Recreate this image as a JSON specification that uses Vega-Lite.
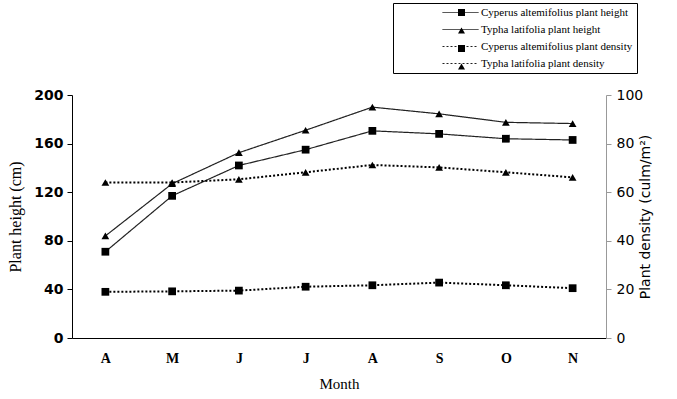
{
  "$schema": "https://vega.github.io/schema/vega-lite/v6.json",
  "width": 534,
  "height": 243,
  "autosize": {"type": "none"},
  "padding": {"left": 72, "top": 95, "right": 71, "bottom": 61},
  "background": "white",
  "config": {"view": {"stroke": null}},
  "data": {
    "values": [
      {"month": "Apr", "series": "Cyperus altemifolius plant height", "measure": "height", "value": 71},
      {"month": "May", "series": "Cyperus altemifolius plant height", "measure": "height", "value": 117},
      {"month": "Jun", "series": "Cyperus altemifolius plant height", "measure": "height", "value": 142},
      {"month": "Jul", "series": "Cyperus altemifolius plant height", "measure": "height", "value": 155},
      {"month": "Aug", "series": "Cyperus altemifolius plant height", "measure": "height", "value": 170.5},
      {"month": "Sep", "series": "Cyperus altemifolius plant height", "measure": "height", "value": 168},
      {"month": "Oct", "series": "Cyperus altemifolius plant height", "measure": "height", "value": 164},
      {"month": "Nov", "series": "Cyperus altemifolius plant height", "measure": "height", "value": 163},
      {"month": "Apr", "series": "Typha latifolia plant height", "measure": "height", "value": 84},
      {"month": "May", "series": "Typha latifolia plant height", "measure": "height", "value": 127},
      {"month": "Jun", "series": "Typha latifolia plant height", "measure": "height", "value": 152.5},
      {"month": "Jul", "series": "Typha latifolia plant height", "measure": "height", "value": 171},
      {"month": "Aug", "series": "Typha latifolia plant height", "measure": "height", "value": 190},
      {"month": "Sep", "series": "Typha latifolia plant height", "measure": "height", "value": 184.5},
      {"month": "Oct", "series": "Typha latifolia plant height", "measure": "height", "value": 177.5},
      {"month": "Nov", "series": "Typha latifolia plant height", "measure": "height", "value": 176.5},
      {"month": "Apr", "series": "Cyperus altemifolius plant density", "measure": "density", "value": 19},
      {"month": "May", "series": "Cyperus altemifolius plant density", "measure": "density", "value": 19.2},
      {"month": "Jun", "series": "Cyperus altemifolius plant density", "measure": "density", "value": 19.5},
      {"month": "Jul", "series": "Cyperus altemifolius plant density", "measure": "density", "value": 21.1},
      {"month": "Aug", "series": "Cyperus altemifolius plant density", "measure": "density", "value": 21.7},
      {"month": "Sep", "series": "Cyperus altemifolius plant density", "measure": "density", "value": 22.8},
      {"month": "Oct", "series": "Cyperus altemifolius plant density", "measure": "density", "value": 21.7},
      {"month": "Nov", "series": "Cyperus altemifolius plant density", "measure": "density", "value": 20.5},
      {"month": "Apr", "series": "Typha latifolia plant density", "measure": "density", "value": 64},
      {"month": "May", "series": "Typha latifolia plant density", "measure": "density", "value": 64},
      {"month": "Jun", "series": "Typha latifolia plant density", "measure": "density", "value": 65.3},
      {"month": "Jul", "series": "Typha latifolia plant density", "measure": "density", "value": 68.2},
      {"month": "Aug", "series": "Typha latifolia plant density", "measure": "density", "value": 71.2},
      {"month": "Sep", "series": "Typha latifolia plant density", "measure": "density", "value": 70.2},
      {"month": "Oct", "series": "Typha latifolia plant density", "measure": "density", "value": 68.2},
      {"month": "Nov", "series": "Typha latifolia plant density", "measure": "density", "value": 66.1}
    ]
  },
  "encoding": {
    "x": {
      "field": "month",
      "type": "ordinal",
      "sort": ["Apr", "May", "Jun", "Jul", "Aug", "Sep", "Oct", "Nov"],
      "scale": {"paddingInner": 0, "paddingOuter": 0},
      "axis": {
        "title": "Month",
        "titleFont": "Liberation Serif",
        "titleFontSize": 15,
        "titleFontWeight": "normal",
        "titleColor": "black",
        "titlePadding": 11,
        "labelExpr": "substring(datum.label, 0, 1)",
        "labelFont": "Liberation Serif",
        "labelFontSize": 14,
        "labelFontWeight": "bold",
        "labelColor": "black",
        "labelAngle": 0,
        "labelPadding": 13,
        "ticks": false,
        "domainColor": "black",
        "grid": false
      }
    },
    "detail": {"field": "series", "type": "nominal"}
  },
  "layer": [
    {
      "transform": [{"filter": "datum.measure == 'height'"}],
      "encoding": {
        "y": {
          "field": "value",
          "type": "quantitative",
          "scale": {"domain": [0, 200], "nice": false},
          "axis": {
            "orient": "left",
            "title": "Plant height (cm)",
            "titleFont": "Liberation Serif",
            "titleFontSize": 16,
            "titleFontWeight": "normal",
            "titleColor": "black",
            "titlePadding": 10,
            "values": [0, 40, 80, 120, 160, 200],
            "labelFont": "DejaVu Sans",
            "labelFontSize": 14,
            "labelFontWeight": "bold",
            "labelColor": "black",
            "labelPadding": 4,
            "tickColor": "black",
            "tickSize": 5,
            "domainColor": "black",
            "grid": false
          }
        }
      },
      "layer": [
        {
          "mark": {"type": "line", "color": "#222", "strokeWidth": 1.2},
          "encoding": {
            "strokeDash": {
              "field": "series",
              "type": "nominal",
              "scale": {
                "domain": ["Cyperus altemifolius plant height", "Typha latifolia plant height", "Cyperus altemifolius plant density", "Typha latifolia plant density"],
                "range": [[1, 0], [1, 0], [2, 2], [2, 2]]
              },
              "legend": {
                "title": null,
                "orient": "none",
                "legendX": 321,
                "legendY": -92,
                "strokeColor": "black",
                "fillColor": "white",
                "padding": 4,
                "symbolOffset": 58,
                "symbolSize": 81,
                "symbolType": "M-4,0H4",
                "symbolStrokeWidth": 1,
                "labelOffset": 15,
                "rowPadding": 5,
                "labelFont": "Liberation Serif",
                "labelFontSize": 11,
                "labelColor": "black",
                "labelLimit": 400,
                "labelExpr": "datum.label + '                    '"
              }
            }
          }
        },
        {
          "mark": {"type": "point", "filled": true, "color": "black", "opacity": 1, "size": 60},
          "encoding": {
            "shape": {
              "field": "series",
              "type": "nominal",
              "scale": {
                "domain": ["Cyperus altemifolius plant height", "Typha latifolia plant height", "Cyperus altemifolius plant density", "Typha latifolia plant density", "none"],
                "range": ["square", "triangle-up", "square", "triangle-up", "circle"]
              },
              "legend": {
                "title": null,
                "orient": "none",
                "legendX": 321,
                "legendY": -92,
                "values": ["Cyperus altemifolius plant height", "Typha latifolia plant height", "Cyperus altemifolius plant density", "Typha latifolia plant density"],
                "padding": 4,
                "symbolOffset": 59,
                "symbolSize": 49,
                "labelOffset": 15,
                "rowPadding": 5,
                "labelFont": "Liberation Serif",
                "labelFontSize": 11,
                "labelColor": "black",
                "labelOpacity": 0,
                "labelLimit": 400
              }
            }
          }
        }
      ]
    },
    {
      "transform": [{"filter": "datum.measure == 'density'"}],
      "encoding": {
        "y": {
          "field": "value",
          "type": "quantitative",
          "scale": {"domain": [0, 100], "nice": false},
          "axis": {
            "orient": "right",
            "title": "Plant density (culm/m²)",
            "titleFont": "DejaVu Sans",
            "titleFontSize": 14,
            "titleFontWeight": "normal",
            "titleColor": "black",
            "titleAngle": 270,
            "titlePadding": 10,
            "values": [0, 20, 40, 60, 80, 100],
            "labelFont": "DejaVu Sans",
            "labelFontSize": 14,
            "labelColor": "black",
            "labelPadding": 5,
            "tickColor": "#999",
            "tickSize": 5,
            "domainColor": "#999",
            "grid": false
          }
        }
      },
      "layer": [
        {
          "mark": {"type": "line", "color": "black", "strokeWidth": 2},
          "encoding": {
            "strokeDash": {"field": "series", "type": "nominal"}
          }
        },
        {
          "mark": {"type": "point", "filled": true, "color": "black", "opacity": 1, "size": 60},
          "encoding": {
            "shape": {"field": "series", "type": "nominal"}
          }
        }
      ]
    }
  ],
  "resolve": {"scale": {"y": "independent"}}
}
